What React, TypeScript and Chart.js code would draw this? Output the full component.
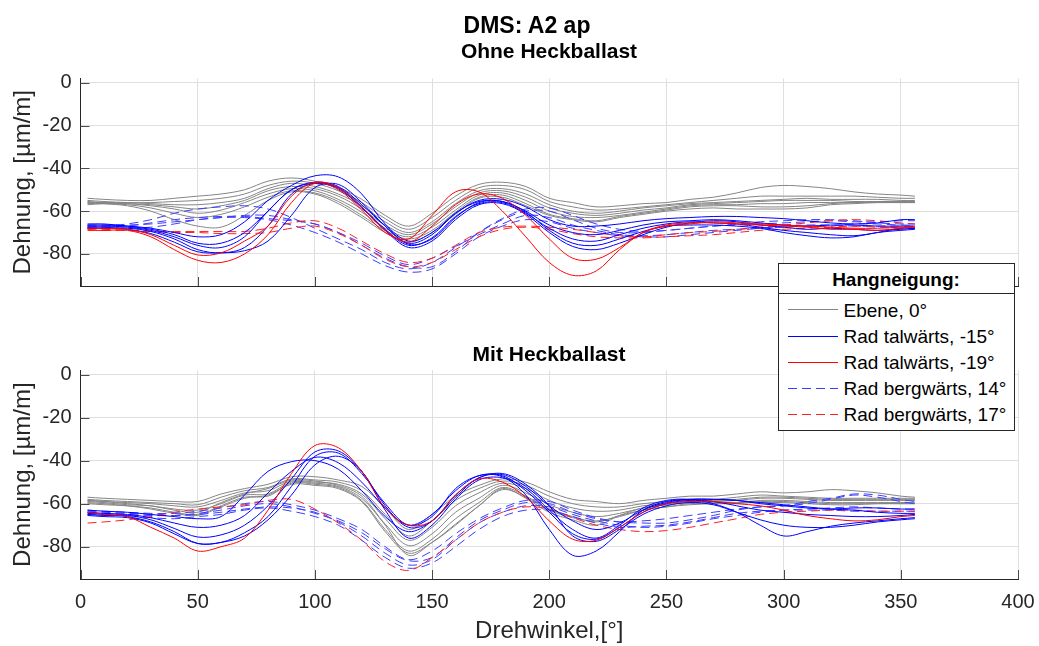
import { useEffect, useRef } from 'react';
import { Chart, registerables } from 'chart.js';

Chart.register(...registerables);

// Drehwinkel sample positions (degrees)
const ANGLES = [3, 10, 20, 30, 40, 50, 60, 70, 80, 90, 100, 110, 120, 130, 140, 150, 160, 170, 180, 190, 200, 210, 220, 230, 240, 250, 260, 270, 280, 290, 300, 310, 320, 330, 340, 350, 356];

const X_TICKS = [0, 50, 100, 150, 200, 250, 300, 350, 400];
const Y_TICKS = [-80, -60, -40, -20, 0];
const X_MIN = 0;
const X_MAX = 400;
const Y_MIN = -95;
const Y_MAX = 2;

const MAIN_TITLE = 'DMS: A2 ap';
const TITLE_OHNE = 'Ohne Heckballast';
const TITLE_MIT = 'Mit Heckballast';
const Y_LABEL = 'Dehnung, [µm/m]';
const X_LABEL = 'Drehwinkel,[°]';
const LEGEND_TITLE = 'Hangneigung:';
const LEGEND_LABELS = ['Ebene, 0°', 'Rad talwärts, -15°', 'Rad talwärts, -19°', 'Rad bergwärts, 14°', 'Rad bergwärts, 17°'];

// ---- Ohne Heckballast ----
const OHNE_EBENE = [
  [-54, -54.5, -55, -55, -54, -53, -52, -50, -46, -44.5, -46, -49, -54.5, -62, -67, -61, -53, -47.5, -46.5, -48.5, -54, -56, -58, -57.5, -56.5, -56, -54.5, -53.5, -51.5, -49, -48, -48.5, -49.5, -51, -52, -52.5, -53],
  [-55, -55.5, -56, -56, -55.5, -55, -54, -52, -48, -46, -47, -50.5, -56, -63.5, -68.5, -63, -55, -49, -48, -50, -55.5, -58, -59.5, -59, -58, -57, -56, -55, -54, -53, -53, -53, -53, -53, -53.5, -54, -54],
  [-56, -56, -56, -56.5, -57, -57, -56, -54, -49.5, -47, -48.5, -52, -57.5, -65, -70, -65, -56.5, -50.5, -49.5, -52, -57, -60, -61, -60, -58.5, -57.5, -56.5, -56, -55.5, -55, -54.5, -54, -54.5, -54.5, -54.5, -55, -55],
  [-57, -56.5, -56.5, -57, -58, -59, -57.5, -55, -50.5, -48.5, -49.5, -53, -59, -66.5, -71, -66, -58, -51.5, -50.5, -53.5, -58.5, -61, -62, -61, -59.5, -58.5, -57, -56.5, -56, -55.5, -55, -55, -55, -55.5, -55.5, -55.5, -55.5],
  [-55.5, -56, -56.5, -57.5, -59, -61, -59.5, -56, -52, -49.5, -50.5, -54.5, -60.5, -68, -72, -67.5, -59.5, -52.5, -51.5, -55, -60, -62.5, -63, -62, -60.5, -59, -57.5, -57, -57, -56.5, -56.5, -56, -56, -56, -55.5, -55.5, -55.5],
  [-56.5, -56.5, -57, -58.5, -61, -63, -61.5, -58, -53.5, -50.5, -51.5, -55.5, -62, -69, -73, -69, -60.5, -53.5, -52.5, -56.5, -61.5, -63.5, -64.5, -62.5, -61, -59.5, -58, -57.5, -57.5, -58, -58, -57.5, -56.5, -56, -56, -56, -56],
  [-56, -56.5, -57.5, -60, -64, -67, -67.5, -62, -55, -51, -52, -56.5, -63, -70, -74.5, -70, -61.5, -54, -53.5, -57.5, -62, -64, -65, -63, -61.5, -60, -59, -58.5, -59, -59, -59, -58.5, -57, -56.5, -56, -56, -56],
];
const OHNE_TAL15 = [
  [-66.5, -66.5, -67, -68, -70, -72, -71, -65, -55, -48, -43.5, -44, -52, -66, -74, -70, -61, -55, -54.5, -58, -64, -67, -67, -66, -64.5, -63.5, -63, -62.5, -62.5, -63, -63.5, -64.5, -65.5, -66, -65.5, -64, -64],
  [-67, -67, -67.5, -69, -72, -76, -77, -72, -60, -50, -46.5, -48.5, -57, -67, -75, -71, -61, -55.5, -55.5, -60, -66.5, -70, -71, -69, -66.5, -65, -64.5, -64, -64.5, -65.5, -66.5, -67, -66.5, -66.5, -67, -67, -67],
  [-68, -68, -68, -69.5, -73, -78, -79.5, -77, -67, -52, -47, -49, -58, -68.5, -76, -72.5, -62.5, -56.5, -56, -61, -68, -73, -74, -71, -68, -66, -65, -65.5, -66, -67.5, -69, -70, -71, -71.5, -70, -68, -68],
  [-67.5, -67.5, -68.5, -70.5, -74.5, -79, -79.5, -78.5, -74, -62, -49, -47.5, -56, -67, -75.5, -73, -63, -56, -55.5, -60.5, -69, -75, -76, -73, -69.5, -67, -66.5, -66.5, -67, -68, -70, -71.5, -72.5, -72, -70, -69, -68.5],
  [-66, -66, -67, -68.5, -71, -75, -75, -70, -60, -50, -47, -49.5, -58.5, -69, -77, -74, -64, -57, -56.5, -61.5, -70, -76.5, -78, -75, -71, -67.5, -65.5, -64.5, -65, -66.5, -67.5, -68.5, -68, -68.5, -69, -68.5, -68],
];
const OHNE_TAL19 = [
  [-68, -68, -68.5, -71, -76, -80.5, -79.5, -74, -67, -53, -46.5, -49, -58, -69, -74.5, -67, -57, -52, -54, -62, -73, -82, -82.5, -77, -70, -67, -66, -65, -65.5, -66, -66.5, -67, -67.5, -68, -68, -67.5, -67.5],
  [-69, -69, -69, -72, -78, -83, -84, -80, -71, -56, -47, -50, -59.5, -70, -73, -62, -51, -51, -60, -72, -84, -90, -88, -78, -70, -66.5, -65.5, -65.5, -66, -66.5, -67, -67.5, -68.5, -68.5, -69, -68, -67.5],
];
const OHNE_BERG14 = [
  [-67, -67, -66, -64, -61, -59, -58, -57.5, -59, -63, -68, -73, -78, -84, -87, -84, -77, -70, -64, -60, -60, -64, -68, -70, -70, -69, -68, -67, -66.5, -66, -65.5, -65, -64.5, -65, -65, -64.5, -64.5],
  [-67.5, -67.5, -67, -65.5, -64, -63, -62.5, -62.5, -63.5, -64.5, -66, -70, -75, -81, -85, -82, -76.5, -71, -66, -62, -63, -66.5, -69, -71, -71.5, -71, -70, -69, -68.5, -68, -67, -66.5, -66.5, -67, -67, -67, -67],
  [-68, -68, -68, -67.5, -66, -64, -63, -63, -64, -66.5, -70, -74.5, -80, -85.5, -88.5, -87, -80, -72, -67, -64, -65, -68, -70, -71.5, -72, -72, -71, -70, -69, -68, -67.5, -67, -67, -66, -66, -66.5, -66.5],
  [-66.5, -66.5, -66.5, -66, -65, -64, -63, -62, -62, -64, -66, -70, -76, -82, -86, -86, -79, -70, -63.5, -59, -58.5, -62, -66, -68.5, -69.5, -69, -68, -67, -66, -65, -64.5, -64, -64, -64.5, -65.5, -66, -66],
];
const OHNE_BERG17 = [
  [-68, -68.5, -69, -69.5, -69.5, -69.5, -69.5, -69.5, -68, -65.5, -64.5, -68, -74, -80, -84, -82, -76, -70, -67.5, -67, -67.5, -68.5, -70, -71.5, -72, -71, -70, -69.5, -68.5, -67.5, -66.5, -65.5, -64.5, -64, -64.5, -65.5, -66],
  [-68.5, -69, -69, -69.5, -70, -70, -70.5, -70.5, -70, -68, -67, -70.5, -76, -82.5, -86, -84, -78, -72, -68.5, -67.5, -68.5, -70.5, -72, -72.5, -72.5, -72, -71.5, -71, -70, -69, -68.5, -68, -67.5, -67, -67.5, -68, -68],
];

// ---- Mit Heckballast ----
const MIT_EBENE = [
  [-57, -57.5, -58, -58.5, -59, -59, -55.5, -53, -51, -47.5, -47.5, -49, -52, -62, -72, -65, -56.5, -51.5, -48.5, -50, -54.5, -58, -59, -60, -58.5, -57.5, -56.5, -56.5, -55.5, -54.5, -55, -54.5, -53.5, -54, -55, -56.5, -57],
  [-58, -58.5, -59, -59.5, -60, -60.5, -57, -54, -52.5, -48.5, -49, -50, -54, -65, -75, -68, -58.5, -53, -49.5, -51.5, -56.5, -60, -61.5, -61.5, -60, -59, -58, -58, -57, -56, -56.5, -57, -57.5, -57.5, -57.5, -57.5, -57.5],
  [-58.5, -59, -59.5, -60, -61, -61.5, -58.5, -55, -54, -49.5, -50, -51, -55.5, -67, -77, -71, -61, -55, -50.5, -53, -58.5, -62, -63.5, -63, -61, -60, -59, -59, -58.5, -57.5, -57.5, -58, -58.5, -58.5, -58.5, -58.5, -58.5],
  [-59, -59.5, -60.5, -61, -62.5, -63, -60, -56, -55.5, -50, -50.5, -52, -57.5, -69.5, -79.5, -74, -64, -57.5, -51.5, -55, -60.5, -64, -66, -64.5, -62, -60.5, -59.5, -59.5, -59.5, -58.5, -58.5, -59, -59.5, -59.5, -59.5, -59.5, -59.5],
  [-59.5, -60, -61, -62, -64, -65, -61, -57, -56.5, -50.5, -51, -52.5, -58.5, -72, -82, -76.5, -67, -59.5, -52.5, -56.5, -62.5, -66, -68.5, -65.5, -63, -61.5, -60, -60, -60, -59, -59, -59.5, -60, -60, -60, -60, -60],
  [-58.5, -59, -60, -61, -63, -64, -59.5, -55.5, -53, -49, -49.5, -51.5, -56.5, -70, -84, -78, -69.5, -61, -53, -57.5, -64, -67.5, -70, -65.5, -62, -60.5, -59, -58.5, -58, -57, -57, -57.5, -58, -58, -58, -58, -58],
  [-60, -60.5, -61, -62.5, -64.5, -65.5, -61.5, -57.5, -56, -51, -51.5, -53, -59, -73, -83, -78, -70, -61, -53.5, -57, -63, -66.5, -68, -66, -63, -61.5, -60.5, -60, -59.5, -59.5, -59.5, -60, -60.5, -60.5, -60, -60, -60],
];
const MIT_TAL15 = [
  [-63, -63.5, -64, -65, -66, -67, -66, -56, -45, -40.5, -40, -44, -54, -66, -73, -68, -57, -48, -46.5, -52, -61, -68, -72, -69, -63, -59.5, -58, -58, -58.5, -60, -61, -62, -62.5, -62, -62, -62.5, -62.5],
  [-64, -64.5, -65, -66.5, -69, -71, -70, -65.5, -55, -45, -38.5, -41, -50, -62, -70, -65, -54, -47, -47, -54, -64, -74, -76.5, -71, -64, -60, -58.5, -59, -61, -63, -64, -65, -65.5, -66, -66, -65.5, -65],
  [-65, -65.5, -65.5, -67.5, -71.5, -75.5, -74.5, -70, -61, -48.5, -36, -35.5, -45, -61, -71, -68, -56, -48, -46, -51, -61, -75, -77.5, -72, -65, -61, -59.5, -60.5, -64, -67.5, -70, -71, -71, -70, -68.5, -67.5, -67],
  [-65.5, -66, -66.5, -69, -74, -78.5, -78, -73.5, -66, -52, -38, -36.5, -46, -60, -70, -66, -53, -47, -47.5, -56, -72, -84, -82, -73, -63, -59, -58, -58, -58.5, -59.5, -60.5, -61.5, -62.5, -63, -64, -64.5, -64.5],
  [-64.5, -65, -66, -68.5, -73, -78.5, -78, -75, -67.5, -56, -42, -38, -45, -63, -76, -70, -58, -49, -48, -53, -63, -72, -76, -70, -62, -58.5, -58, -60, -64, -70, -75, -73, -70.5, -69, -68, -67, -66.5],
];
const MIT_TAL19 = [
  [-64, -65, -66, -71, -76, -82, -80, -76, -63, -46, -33, -34, -45, -62, -70, -68, -56, -48.5, -50, -57, -68, -76.5, -77, -71, -64, -60, -59, -59, -60, -61, -63, -65.5, -67, -68, -67.5, -66, -65.5],
];
const MIT_BERG14 = [
  [-63, -63.5, -64, -64.5, -64.5, -63.5, -62, -60, -59, -60.5, -63, -67, -72, -80, -86, -82, -74, -67, -62, -58.5, -59, -63, -66.5, -68.5, -69, -69, -67.5, -65.5, -63, -61.5, -61, -60, -58, -56, -57, -59, -60],
  [-64, -64.5, -65, -65.5, -65.5, -65, -64, -62.5, -61.5, -62, -64, -68.5, -75, -83, -88.5, -86, -77, -69, -64, -61, -61.5, -65, -68, -70, -71, -70.5, -69, -67, -65.5, -64, -63, -62.5, -62, -61.5, -62, -62.5, -62.5],
  [-65, -65, -65.5, -66.5, -67, -66, -65, -63, -62, -63.5, -66, -70, -77, -85, -90, -87.5, -80, -72, -66, -63, -63, -66, -69, -71, -70.5, -70, -68.5, -66.5, -64.5, -63.5, -63, -63, -63, -63.5, -63.5, -63.5, -63.5],
  [-63.5, -64, -64.5, -65, -65.5, -64.5, -63, -61, -60, -61.5, -64.5, -68, -73.5, -81, -86.5, -85, -76, -68, -63, -59.5, -60, -64, -67, -68.5, -68, -67, -65.5, -64, -62.5, -61.5, -61, -59, -57.5, -55.5, -56, -58, -59],
];
const MIT_BERG17 = [
  [-69, -68.5, -67.5, -66, -64, -62.5, -61.5, -60.5, -58.5, -58, -62.5, -69, -77, -87, -91, -85, -77, -69, -64, -61.5, -62.5, -66.5, -70, -72, -73, -72.5, -71, -69, -67, -65, -64, -63.5, -63, -63, -63.5, -63.5, -63.5],
];

const FONT = '"Liberation Sans", Arial, Helvetica, sans-serif';
const AXIS_COLOR = '#262626';
const GRID_COLOR = '#dfdfdf';

// one style per Hangneigung, in legend order; lower "order" is painted on top
const STYLES = [
  { color: '#858585', dash: [] as number[], order: 5 },
  { color: '#0000ff', dash: [] as number[], order: 2 },
  { color: '#ff0000', dash: [] as number[], order: 1 },
  { color: '#3c3cff', dash: [9, 5], order: 4 },
  { color: '#ff2020', dash: [9, 5], order: 3 },
];

const OHNE_GROUPS = [OHNE_EBENE, OHNE_TAL15, OHNE_TAL19, OHNE_BERG14, OHNE_BERG17];
const MIT_GROUPS = [MIT_EBENE, MIT_TAL15, MIT_TAL19, MIT_BERG14, MIT_BERG17];

function buildDatasets(groups: number[][][]) {
  const sets: any[] = [];
  groups.forEach((group, g) => {
    const st = STYLES[g];
    group.forEach((series, k) => {
      sets.push({
        label: `${LEGEND_LABELS[g]} #${k + 1}`,
        data: ANGLES.map((a, i) => ({ x: a, y: series[i] })),
        borderColor: st.color,
        borderWidth: 1,
        borderDash: st.dash,
        pointRadius: 0,
        tension: 0.35,
        fill: false,
        order: st.order,
      });
    });
  });
  return sets;
}

// MATLAB-style tick marks pointing into the axes
const inwardTicks = {
  id: 'inwardTicks',
  afterDatasetsDraw(chart: any) {
    const { ctx, chartArea, scales } = chart;
    ctx.save();
    ctx.strokeStyle = '#4a4a4a';
    ctx.lineWidth = 1;
    ctx.beginPath();
    for (const v of X_TICKS) {
      const px = Math.round(scales.x.getPixelForValue(v)) + 0.5;
      ctx.moveTo(px, chartArea.bottom);
      ctx.lineTo(px, chartArea.bottom - 9);
    }
    for (const v of Y_TICKS) {
      const py = Math.round(scales.y.getPixelForValue(v)) + 0.5;
      ctx.moveTo(chartArea.left, py);
      ctx.lineTo(chartArea.left + 9, py);
    }
    ctx.stroke();
    ctx.restore();
  },
};

function makeChart(canvas: HTMLCanvasElement, groups: number[][][], padTop: number, xHeight: number, withXLabels: boolean) {
  return new Chart(canvas, {
    type: 'line',
    data: { datasets: buildDatasets(groups) },
    plugins: [inwardTicks],
    options: {
      responsive: false,
      animation: false,
      devicePixelRatio: 1,
      events: [],
      layout: { padding: { top: padTop, right: 21, bottom: 0, left: 0 } },
      plugins: {
        legend: { display: false },
        tooltip: { enabled: false },
        title: { display: false },
      },
      scales: {
        x: {
          type: 'linear',
          min: X_MIN,
          max: X_MAX,
          afterBuildTicks: (s: any) => {
            s.ticks = X_TICKS.map((v) => ({ value: v }));
          },
          afterFit: (s: any) => {
            s.height = xHeight;
            s.paddingLeft = 0;
            s.paddingRight = 0;
          },
          grid: { color: GRID_COLOR, lineWidth: 1, drawTicks: false },
          border: { display: true, color: AXIS_COLOR, width: 1 },
          ticks: {
            display: withXLabels,
            padding: 11,
            color: AXIS_COLOR,
            maxRotation: 0,
            font: { family: FONT, size: 20 },
          },
          title: {
            display: withXLabels,
            text: X_LABEL,
            color: AXIS_COLOR,
            padding: { top: 0, bottom: 0 },
            font: { family: FONT, size: 24 },
          },
        },
        y: {
          type: 'linear',
          min: Y_MIN,
          max: Y_MAX,
          afterBuildTicks: (s: any) => {
            s.ticks = Y_TICKS.map((v) => ({ value: v }));
          },
          afterFit: (s: any) => {
            s.width = 80.5;
            s.paddingTop = 0;
            s.paddingBottom = 0;
          },
          grid: { color: GRID_COLOR, lineWidth: 1, drawTicks: false },
          border: { display: true, color: AXIS_COLOR, width: 1 },
          ticks: {
            padding: 9,
            color: AXIS_COLOR,
            font: { family: FONT, size: 20 },
          },
          title: {
            display: true,
            text: Y_LABEL,
            color: AXIS_COLOR,
            padding: { top: 8.5, bottom: 0 },
            font: { family: FONT, size: 24 },
          },
        },
      },
    },
  } as any);
}

function LegendBox() {
  const rowY = [45.3, 71.5, 97.7, 123.9, 150.1];
  return (
    <div
      style={{
        position: 'absolute',
        left: 777.5,
        top: 263,
        width: 237,
        height: 168,
        boxSizing: 'border-box',
        border: `1px solid ${AXIS_COLOR}`,
        background: '#ffffff',
        fontFamily: FONT,
        color: '#000',
      }}
    >
      <div
        style={{
          position: 'absolute',
          left: 0,
          right: 0,
          top: 5,
          textAlign: 'center',
          fontSize: 19,
          lineHeight: '22px',
          fontWeight: 'bold',
        }}
      >
        {LEGEND_TITLE}
      </div>
      <div style={{ position: 'absolute', left: 0, right: 0, top: 29, height: 1, background: AXIS_COLOR }} />
      {LEGEND_LABELS.map((lab, i) => {
        const st = STYLES[i];
        const bg = st.dash.length
          ? `repeating-linear-gradient(to right, ${st.color} 0px, ${st.color} ${st.dash[0]}px, transparent ${st.dash[0]}px, transparent ${st.dash[0] + st.dash[1]}px)`
          : st.color;
        return (
          <div key={lab}>
            <div
              style={{
                position: 'absolute',
                left: 9,
                top: Math.round(rowY[i]),
                width: 50,
                height: 1,
                background: bg,
              }}
            />
            <div
              style={{
                position: 'absolute',
                left: 65,
                top: rowY[i] - 9.8,
                fontSize: 19,
                lineHeight: '22px',
                whiteSpace: 'nowrap',
              }}
            >
              {lab}
            </div>
          </div>
        );
      })}
    </div>
  );
}

export default function App() {
  const topRef = useRef<HTMLCanvasElement>(null);
  const botRef = useRef<HTMLCanvasElement>(null);

  useEffect(() => {
    const top = makeChart(topRef.current!, OHNE_GROUPS, 78.5, 14, false);
    const bottom = makeChart(botRef.current!, MIT_GROUPS, 70.2, 67, true);
    return () => {
      top.destroy();
      bottom.destroy();
    };
  }, []);

  const titleStyle = (left: number, top: number, size: number): any => ({
    position: 'absolute',
    left,
    top,
    transform: 'translateX(-50%)',
    fontSize: size,
    lineHeight: `${size + 3}px`,
    fontWeight: 'bold',
    whiteSpace: 'nowrap',
    color: '#000',
  });

  return (
    <div
      style={{
        position: 'fixed',
        left: 0,
        top: 0,
        width: 1039,
        height: 646,
        background: '#ffffff',
        overflow: 'hidden',
        fontFamily: FONT,
      }}
    >
      <canvas ref={topRef} width={1039} height={300} style={{ position: 'absolute', left: 0, top: 0, width: 1039, height: 300 }} />
      <canvas ref={botRef} width={1039} height={346} style={{ position: 'absolute', left: 0, top: 300, width: 1039, height: 346 }} />
      <div style={titleStyle(527, 12, 23)}>{MAIN_TITLE}</div>
      <div style={titleStyle(549, 38.5, 21)}>{TITLE_OHNE}</div>
      <div style={titleStyle(549, 342, 21)}>{TITLE_MIT}</div>
      <LegendBox />
    </div>
  );
}
